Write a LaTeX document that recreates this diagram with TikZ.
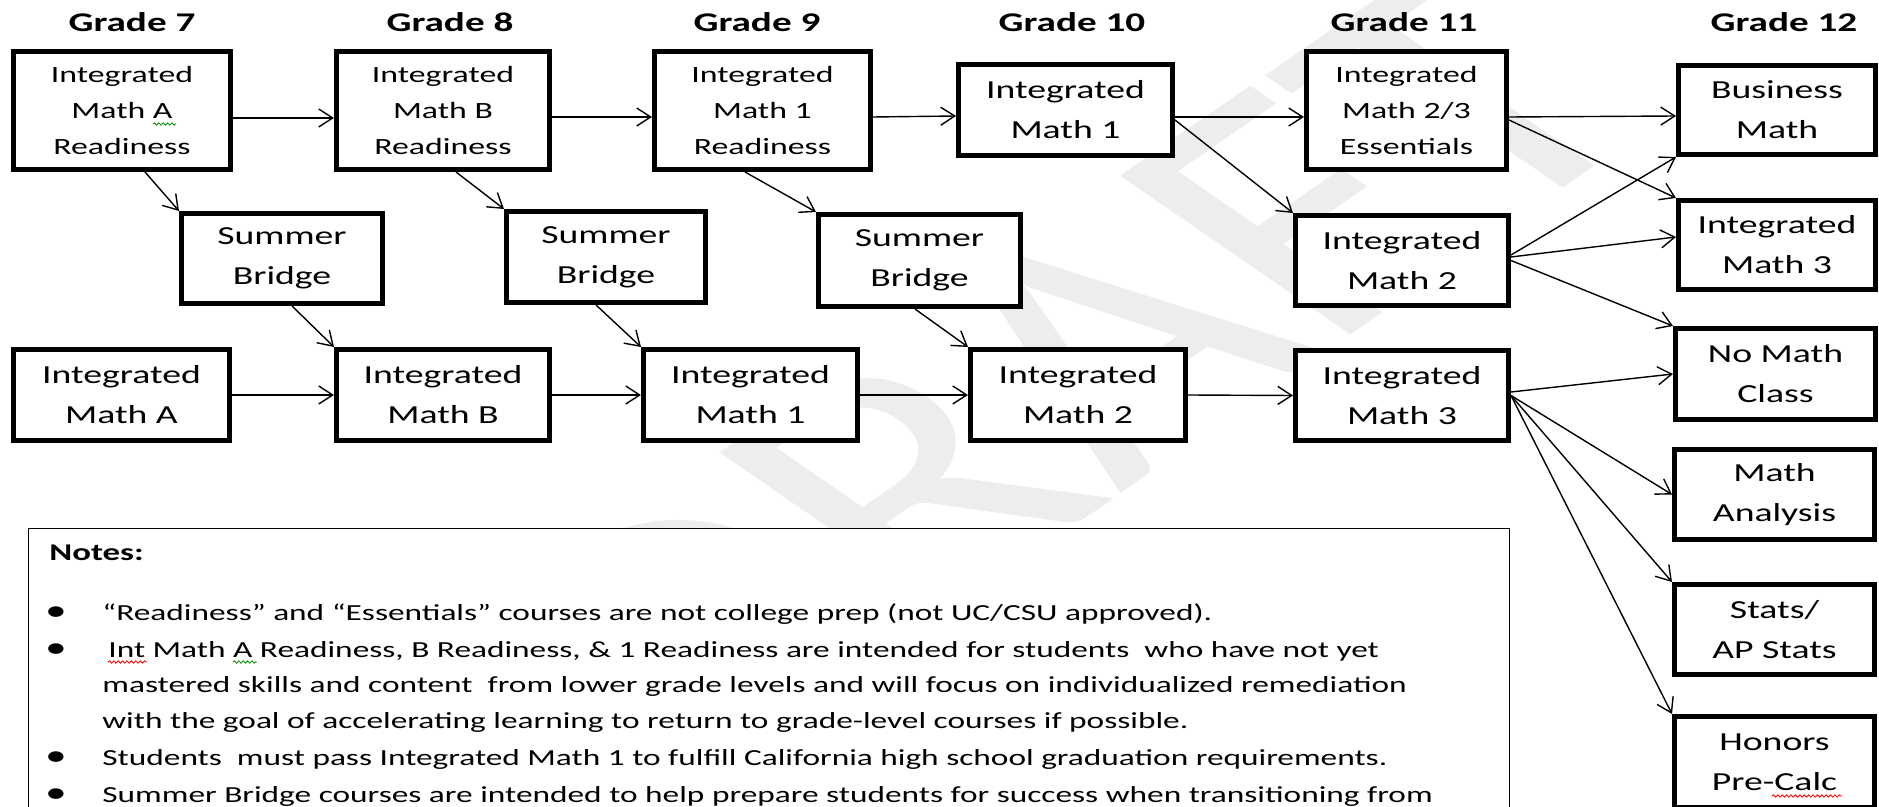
\documentclass[tikz,border=0pt]{standalone}
\usepackage{fontspec}
\setmainfont{Carlito}[FakeStretch=1.45]
\newfontfamily\wmfont{Carlito}
\usetikzlibrary{arrows.meta,calc,decorations.pathmorphing}
\begin{document}
\begin{tikzpicture}[x=0.5pt,y=-0.5pt,
  box/.style={draw=black, line width=2.6pt, fill=white, inner sep=0pt, align=center},
  three/.style={box, font=\fontsize{11.65}{17.85}\selectfont},
  two/.style={box, font=\fontsize{13}{20}\selectfont},
  grade/.style={font=\fontsize{13.5}{16}\selectfont\bfseries, inner sep=0pt, anchor=base},
  arr/.style={line width=0.7pt, -{Straight Barb[length=7pt,width=9pt,line width=0.7pt]}},
  note/.style={font=\fontsize{11.5}{18}\selectfont, anchor=base west, inner sep=0pt},
  bul/.style={font=\fontsize{15}{18}\selectfont, anchor=base, inner sep=0pt},
  squig/.style={line width=0.4pt, decorate, decoration={snake, amplitude=0.6pt, segment length=2.2pt}},
]
\useasboundingbox (0,0) rectangle (1879,807);
\fill[white] (0,0) rectangle (1879,807);
% watermark (rotated, then stretched like the rest of the picture)
\begin{scope}[shift={(1070,370)}, xscale=1.45, rotate=45]
  \node[transform shape, text=black!7, font=\wmfont\fontsize{175}{175}\selectfont, inner sep=0pt] (wm) at (0,0) {DRAFT};
\end{scope}

% notes box
\node[draw=black, line width=0.7pt, fill=white, inner sep=0pt, anchor=north west,
      minimum width=740.3pt, minimum height=200pt] (notesbox) at (28,528) {};

% headings
\node[grade] (g7)  at (132,32)  {Grade 7};
\node[grade] (g8)  at (450,32)  {Grade 8};
\node[grade] (g9)  at (757,32)  {Grade 9};
\node[grade] (g10) at (1072,32) {Grade 10};
\node[grade] (g11) at (1404,32) {Grade 11};
\node[grade] (g12) at (1784,32) {Grade 12};

% top row
\node[three, minimum width=108.4pt, minimum height=58.9pt] (imar)  at (122,110.5)   {Integrated\\Math A\\Readiness};
\node[three, minimum width=106.4pt, minimum height=58.9pt] (imbr)  at (443,110.5)   {Integrated\\Math B\\Readiness};
\node[three, minimum width=107.9pt, minimum height=58.9pt] (im1r)  at (762.5,110.5) {Integrated\\Math 1\\Readiness};
\node[two,   minimum width=106.9pt, minimum height=45.4pt] (im1t)  at (1065.5,110)  {Integrated\\Math 1};
\node[three, minimum width=99.9pt,  minimum height=58.9pt] (im23e) at (1406.5,110.5) {Integrated\\Math 2/3\\Essentials};

% middle row
\node[two, minimum width=100.4pt, minimum height=44.9pt] (sb1)  at (282,258.5)  {Summer\\Bridge};
\node[two, minimum width=99.4pt,  minimum height=45.4pt] (sb2)  at (606,257)    {Summer\\Bridge};
\node[two, minimum width=100.9pt, minimum height=45.9pt] (sb3)  at (919.5,260.5) {Summer\\Bridge};
\node[two, minimum width=106.4pt, minimum height=44.9pt] (im2m) at (1402,260.5) {Integrated\\Math 2};

% bottom row
\node[two, minimum width=107.9pt, minimum height=45.4pt] (ima)  at (121.5,395) {Integrated\\Math A};
\node[two, minimum width=106.4pt, minimum height=45.4pt] (imb)  at (443,395)   {Integrated\\Math B};
\node[two, minimum width=106.9pt, minimum height=45.4pt] (im1b) at (750.5,395) {Integrated\\Math 1};
\node[two, minimum width=107.4pt, minimum height=45.4pt] (im2b) at (1078,395)  {Integrated\\Math 2};
\node[two, minimum width=106.4pt, minimum height=44.9pt] (im3b) at (1402,395.5) {Integrated\\Math 3};

% grade 12
\node[two, minimum width=98.4pt, minimum height=44.4pt] (bm)     at (1777,110)    {Business\\Math};
\node[two, minimum width=98.4pt, minimum height=44.4pt] (im3t)   at (1777,245)    {Integrated\\Math 3};
\node[two, minimum width=99.9pt, minimum height=45.4pt] (nomath) at (1775.5,374)  {No Math\\Class};
\node[two, minimum width=99.9pt, minimum height=44.9pt] (manal)  at (1774.5,494.5) {Math\\Analysis};
\node[two, minimum width=99.9pt, minimum height=44.9pt] (stats)  at (1774.5,629.5) {Stats/\\AP Stats};
\node[two, minimum width=99.9pt, minimum height=45.4pt] (honors) at (1774.5,762)  {Honors\\Pre-Calc};

% horizontal arrows top
\draw[arr] ([yshift=-3.75pt]imar.east) -- ([yshift=-3.75pt]imbr.west);
\draw[arr] ([yshift=-3.25pt]imbr.east) -- ([yshift=-3.25pt]im1r.west);
\draw[arr] ([yshift=-3.25pt]im1r.east) -- ([yshift=-3pt]im1t.west);
\draw[arr] ([yshift=-3.5pt]im1t.east) -- ([yshift=-3.25pt]im23e.west);
\draw[arr] ([yshift=-5pt]im1t.east) -- (im2m.north west);
\draw[arr] ([yshift=-3.25pt]im23e.east) -- ([yshift=-3pt]bm.west);
\draw[arr] ([yshift=-4.75pt]im23e.east) -- (im3t.north west);
\draw[arr] ([yshift=2.75pt]im2m.east) -- (bm.south west);
\draw[arr] ([yshift=1.75pt]im2m.east) -- ([yshift=4pt]im3t.west);
\draw[arr] (im2m.east) -- (nomath.north west);
\draw[arr] ([yshift=1.75pt]im3b.east) -- (nomath.west);
\draw[arr] (im3b.east) -- (manal.west);
\draw[arr] (im3b.east) -- (stats.north west);
\draw[arr] (im3b.east) -- (honors.north west);

% bottom row arrows
\draw[arr] (ima.east) -- (imb.west);
\draw[arr] (imb.east) -- (im1b.west);
\draw[arr] (im1b.east) -- (im2b.west);
\draw[arr] (im2b.east) -- (im3b.west);

% diagonal arrows
\draw[arr] ([xshift=11.5pt]imar.south) -- (sb1.north west);
\draw[arr] ([xshift=5pt]sb1.south) -- (imb.north west);
\draw[arr] ([xshift=6.5pt]imbr.south) -- (sb2.north west);
\draw[arr] ([xshift=-5pt]sb2.south) -- (im1b.north west);
\draw[arr] ([xshift=-8.75pt]im1r.south) -- (sb3.north west);
\draw[arr] ([xshift=-2.25pt]sb3.south) -- (im2b.north west);

% notes text
\node[note, font=\fontsize{12}{16}\selectfont\bfseries] (nh) at (49,560) {Notes:};
\node[bul] (b1) at (56,620) {•};
\node[bul] (b2) at (56,657) {•};
\node[bul] (b3) at (56,765) {•};
\node[bul] (b4) at (56,802) {•};
\node[note] (n1) at (102,620) {“Readiness” and “Essentials” courses are not college prep (not UC/CSU approved).};
\node[note] (n2) at (108,657) {Int Math A Readiness, B Readiness, \& 1 Readiness are intended for students\ \ who have not yet};
\node[note] (n3) at (102,692) {mastered skills and content\ \ from lower grade levels and will focus on individualized remediation};
\node[note] (n4) at (102,728) {with the goal of accelerating learning to return to grade-level courses if possible.};
\node[note] (n5) at (102,765) {Students\ \ must pass Integrated Math 1 to fulfill California high school graduation requirements.};
\node[note] (n6) at (102,802) {Summer Bridge courses are intended to help prepare students for success when transitioning from};

% spelling squiggles
\draw[squig, green!55!black] (153,124) -- (176,124);
\draw[squig, red] (108,662) -- (147,662);
\draw[squig, green!55!black] (233,662) -- (257,662);
\draw[squig, red] (1772,796) -- (1842,796);
\end{tikzpicture}
\end{document}
